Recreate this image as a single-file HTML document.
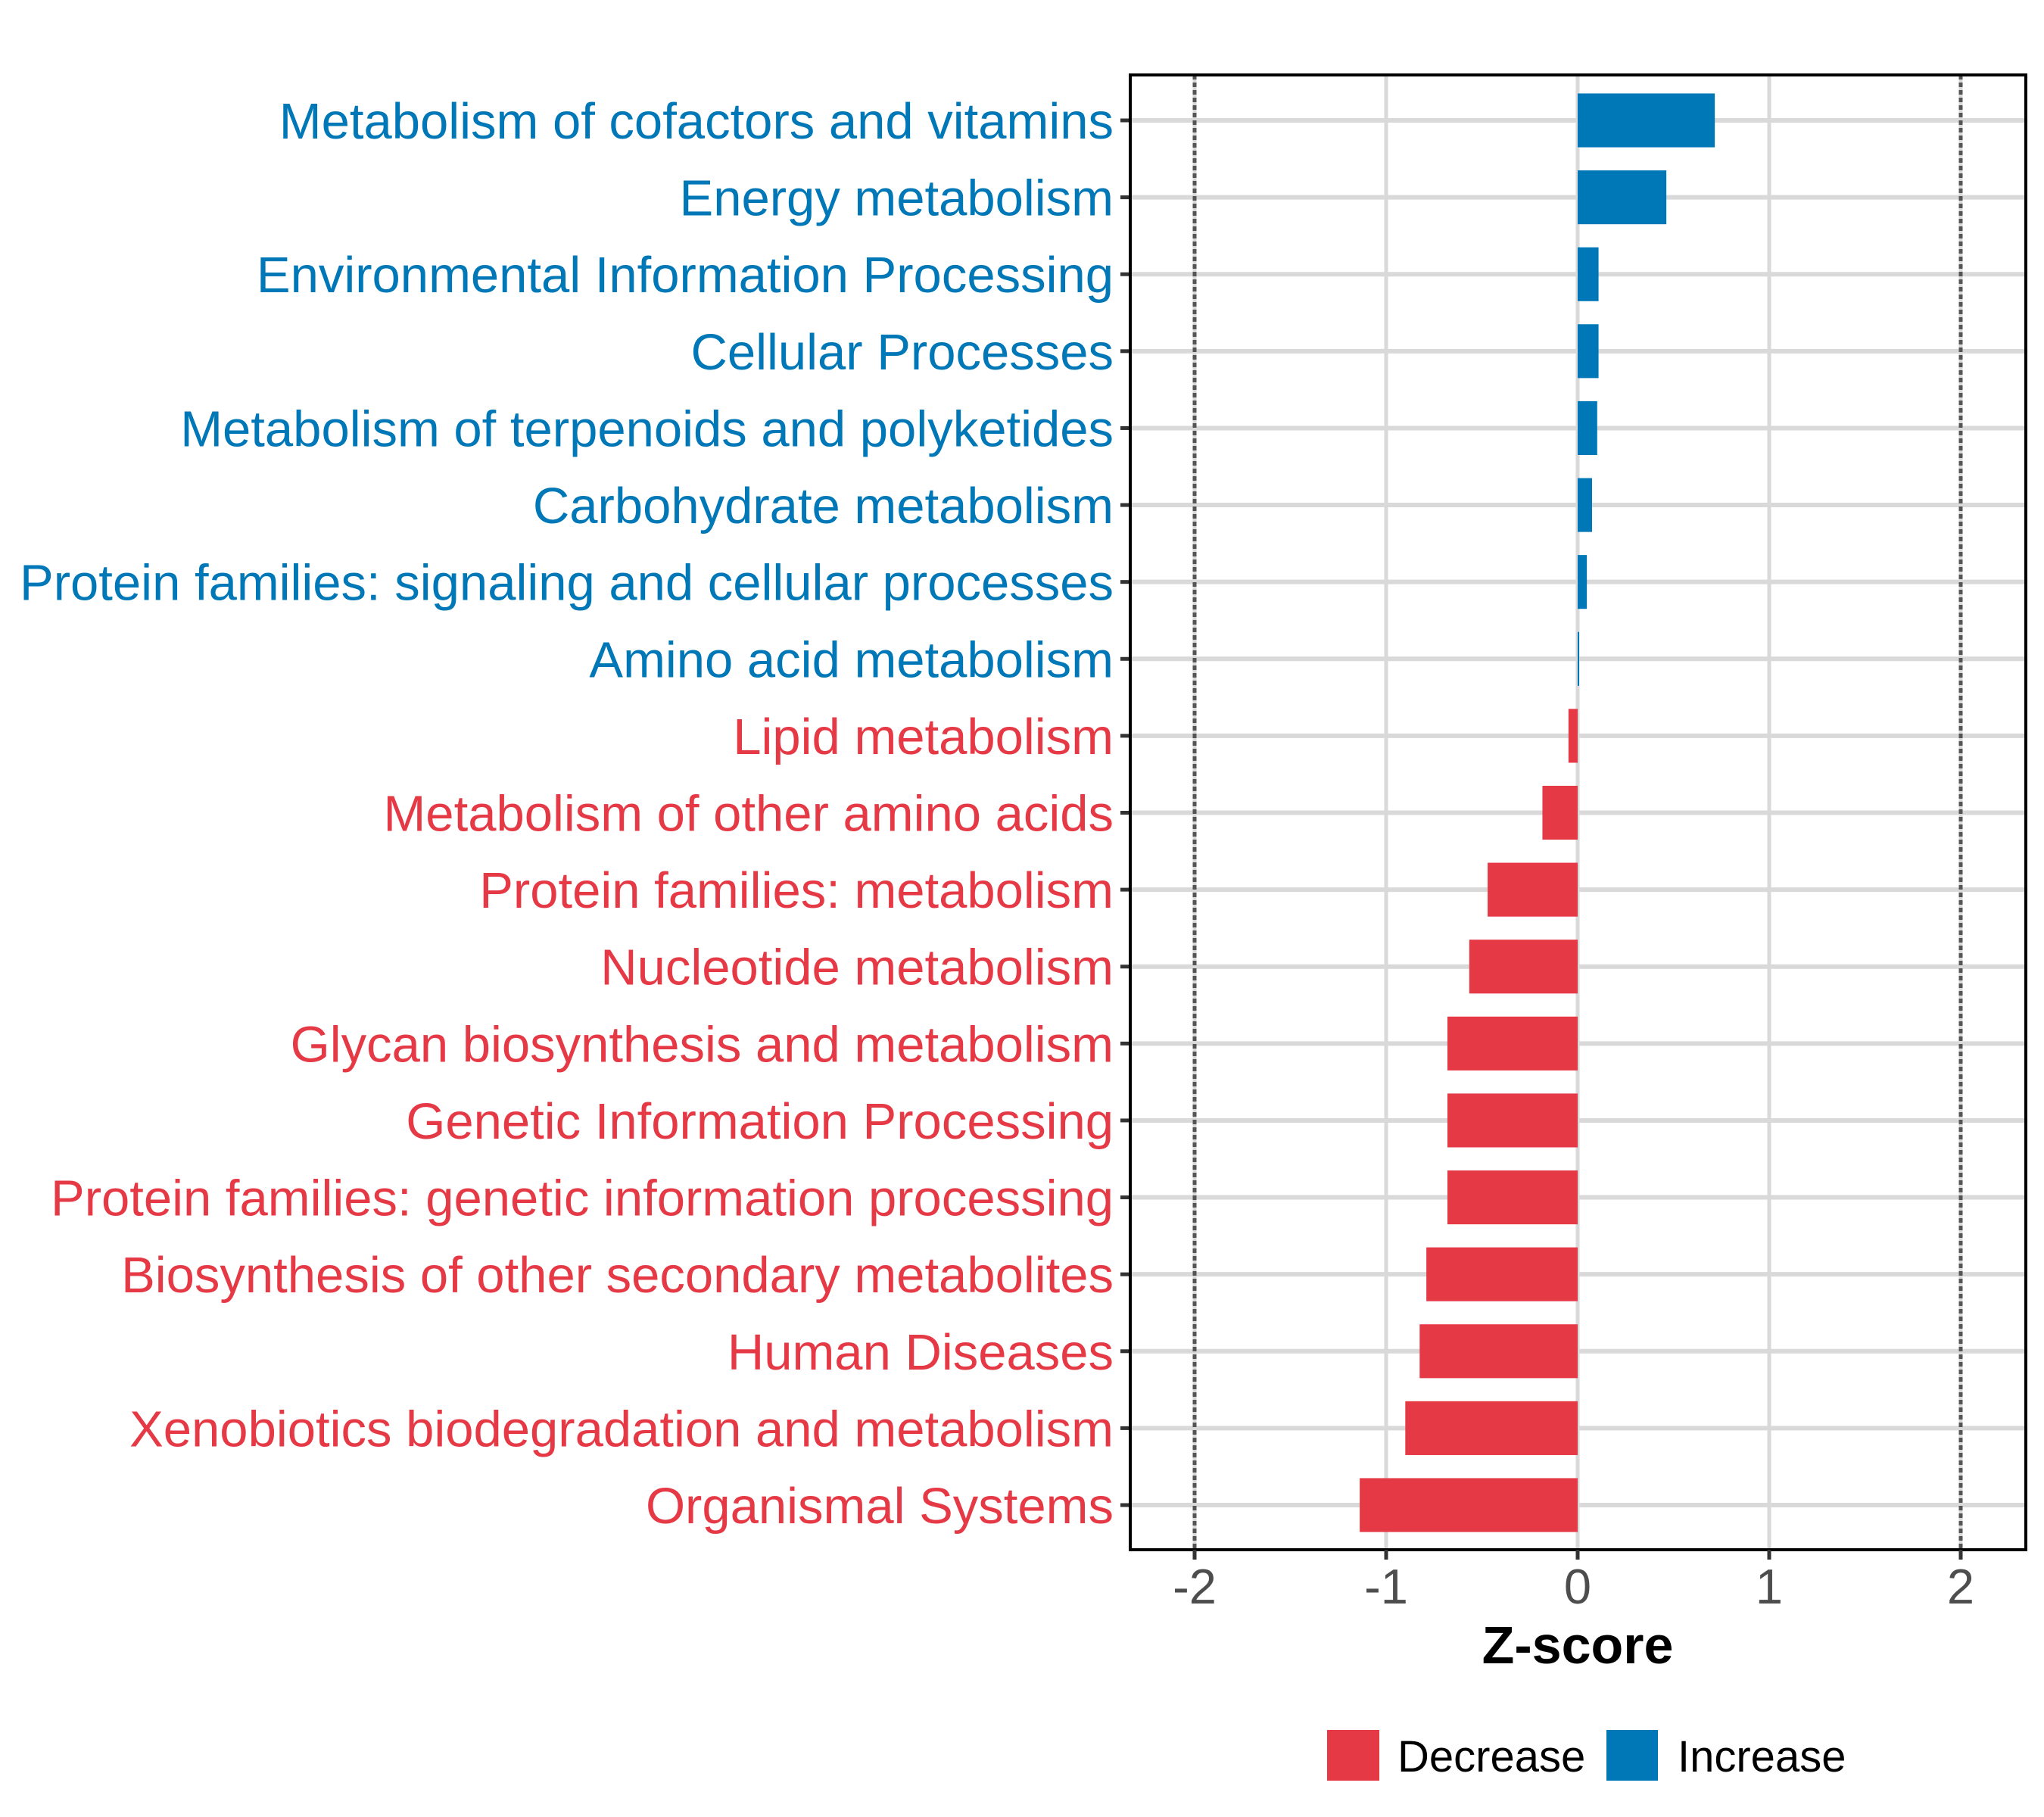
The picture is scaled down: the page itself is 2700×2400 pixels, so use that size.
<!DOCTYPE html>
<html><head><meta charset="utf-8"><style>
html,body{margin:0;padding:0;background:#fff;}
svg{display:block;font-family:"Liberation Sans",Arial,sans-serif;}
</style></head><body>
<svg id="chart" width="2700" height="2400" viewBox="0 0 2700 2400" xmlns="http://www.w3.org/2000/svg">
<rect width="2700" height="2400" fill="#fff"/>
<g id="grid"></g><g id="bars"></g><g id="axes"></g><g id="labels"></g>
<text x="2084" y="2197" font-size="70" font-weight="bold" text-anchor="middle" fill="#000">Z-score</text>
<g>
<rect x="1753" y="2285" width="69" height="67" fill="#E63946"/>
<text x="1846" y="2340" font-size="58" fill="#000">Decrease</text>
<rect x="2122" y="2285" width="68" height="67" fill="#0077B6"/>
<text x="2216" y="2340" font-size="58" fill="#000">Increase</text>
</g>
</svg>
<script>
const categories = ["Metabolism of cofactors and vitamins","Energy metabolism","Environmental Information Processing","Cellular Processes","Metabolism of terpenoids and polyketides","Carbohydrate metabolism","Protein families: signaling and cellular processes","Amino acid metabolism","Lipid metabolism","Metabolism of other amino acids","Protein families: metabolism","Nucleotide metabolism","Glycan biosynthesis and metabolism","Genetic Information Processing","Protein families: genetic information processing","Biosynthesis of other secondary metabolites","Human Diseases","Xenobiotics biodegradation and metabolism","Organismal Systems"];
const zscores = [0.716,0.463,0.109,0.109,0.102,0.075,0.048,0.005,-0.048,-0.184,-0.47,-0.566,-0.68,-0.68,-0.68,-0.79,-0.825,-0.9,-1.138];
const xTicks = [-2,-1,0,1,2];
const xTickLabels = ["-2","-1","0","1","2"];

const NS="http://www.w3.org/2000/svg";
const L=1493,R=2676,T=99,B=2047;
const x0=2084, unit=253;
function xs(v){return x0+v*unit;}
const rowStep=(1988-159)/(categories.length-1);
function ys(i){return 159+i*rowStep;}
function mk(tag,attrs,parent){const e=document.createElementNS(NS,tag);for(const k in attrs)e.setAttribute(k,attrs[k]);parent.appendChild(e);return e;}
const grid=document.getElementById('grid'),bars=document.getElementById('bars'),axes=document.getElementById('axes'),labels=document.getElementById('labels');

xTicks.forEach((t,i)=>{
  const g=mk('line',{x1:xs(t),x2:xs(t),y1:T,y2:B,stroke:'#d9d9d9','stroke-width':5},grid);
  
  
});
categories.forEach((c,i)=>{
  const g=mk('line',{x1:L,x2:R,y1:ys(i),y2:ys(i),stroke:'#d9d9d9','stroke-width':6},grid);
  
  
});
[-2,2].forEach(v=>{
  const d=mk('line',{x1:xs(v),x2:xs(v),y1:T,y2:B,stroke:'#555','stroke-width':5,'stroke-dasharray':'6 4'},grid);
  
  
});
const bh=0.7*rowStep;
categories.forEach((c,i)=>{
  const v=zscores[i];
  const col=v>=0?'#0077B6':'#E63946';
  const x=Math.min(xs(0),xs(v)), w=Math.max(Math.abs(xs(v)-xs(0)),2);
  const r=mk('rect',{x:x,y:ys(i)-bh/2,width:w,height:bh,fill:col},bars);
  
  
  const t=mk('text',{x:1471,y:ys(i)+24,'font-size':67,'text-anchor':'end',fill:col},labels);
  t.textContent=c;
  
  
  const tk=mk('line',{x1:L-13,x2:L,y1:ys(i),y2:ys(i),stroke:'#333','stroke-width':5},axes);
  
  
});
const frame=mk('rect',{x:L,y:T,width:R-L,height:B-T,fill:'none',stroke:'#000','stroke-width':4},axes);


xTicks.forEach((t,i)=>{
  const tk=mk('line',{x1:xs(t),x2:xs(t),y1:B,y2:B+13,stroke:'#333','stroke-width':5},axes);
  
  
  const lb=mk('text',{x:xs(t),y:2118,'font-size':65,'text-anchor':'middle',fill:'#4d4d4d'},labels);
  lb.textContent=xTickLabels[i];
  
  
});
</script>
</body></html>
